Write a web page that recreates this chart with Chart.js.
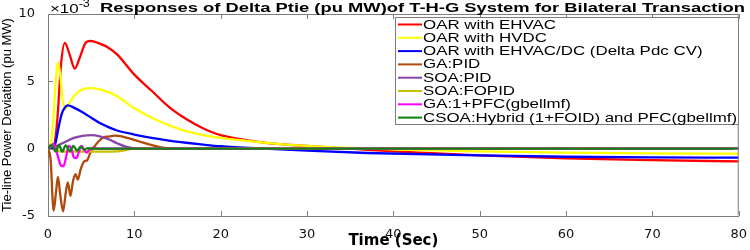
<!DOCTYPE html>
<html>
<head>
<meta charset="utf-8">
<script src="https://cdn.jsdelivr.net/npm/chart.js@4.4.1/dist/chart.umd.min.js"></script>
<style>
  html, body { margin: 0; padding: 0; background: #fff; }
</style>
</head>
<body>
<canvas id="tieChart" width="750" height="250"></canvas>
<script>
// values are in units of 1e-3 pu MW (axis carries the x10^-3 multiplier)
var seriesNames = [
    "OAR with EHVAC",
    "OAR with HVDC",
    "OAR with EHVAC/DC (Delta Pdc CV)",
    "GA:PID",
    "SOA:PID",
    "SOA:FOPID",
    "GA:1+PFC(gbellmf)",
    "CSOA:Hybrid (1+FOID) and PFC(gbellmf)"
];
var seriesColors = ["#ff0000", "#ffff00", "#0000ff", "#b04a0a", "#8a45a8", "#c8c000", "#ff00ff", "#108010"];

var tRed = [0, 0.5, 0.8, 1.1, 1.5, 1.95, 2.5, 3.1, 3.7, 4.3, 4.9, 6, 7, 8, 10, 12, 14, 16, 18, 20, 25, 30, 35, 40, 50, 60, 70, 80];
var yRed = [0, 0, 0.5, 2.3, 6.2, 7.85, 7.0, 5.95, 6.8, 7.8, 8.0, 7.8, 7.5, 7.0, 5.5, 4.3, 3.1, 2.2, 1.5, 1.0, 0.45, 0.2, 0.0, -0.2, -0.5, -0.72, -0.85, -0.95];

var tYellow = [0, 0.3, 0.6, 0.9, 1.15, 1.4, 1.7, 2.05, 2.5, 3, 3.5, 4, 5, 6, 7, 8, 10, 12, 14, 16, 18, 20, 25, 30, 37, 50, 60, 70, 80];
var yYellow = [0, 0.3, 2.0, 5.0, 6.4, 5.6, 3.6, 3.0, 3.4, 3.9, 4.2, 4.4, 4.5, 4.4, 4.2, 3.9, 3.0, 2.3, 1.75, 1.3, 1.0, 0.8, 0.45, 0.2, 0, -0.2, -0.3, -0.35, -0.37];

var tBlue = [0, 0.6, 0.9, 1.2, 1.6, 2.0, 2.3, 3, 4, 5, 6, 7, 8, 10, 12, 14, 16, 18, 20, 25, 30, 37, 50, 60, 70, 80];
var yBlue = [0, 0, 0.5, 1.5, 2.6, 3.1, 3.22, 3.05, 2.7, 2.3, 1.9, 1.6, 1.35, 1.05, 0.8, 0.6, 0.44, 0.3, 0.18, 0.0, -0.15, -0.32, -0.5, -0.6, -0.65, -0.67];

var tGaPid = [0, 0.3, 0.65, 0.9, 1.15, 1.45, 1.75, 2.05, 2.3, 2.6, 2.9, 3.2, 3.45, 3.8, 4.2, 4.55, 4.9, 5.3, 5.8, 6.3, 7, 7.8, 8.6, 9.5, 10.5, 11.5, 12.5, 13.5, 15, 20, 80];
var yGaPid = [0, -0.8, -4.6, -3.4, -2.1, -3.6, -4.65, -3.3, -2.5, -3.5, -2.4, -1.9, -2.3, -1.5, -0.95, -0.85, -0.3, 0.1, 0.5, 0.8, 0.9, 0.97, 0.9, 0.75, 0.55, 0.35, 0.18, 0.05, 0, 0, 0];

var tSoaPid = [0, 0.3, 0.6, 1, 2, 3, 4, 5, 6, 7, 8, 9, 10, 11, 80];
var ySoaPid = [0, 0.25, 0.1, 0.2, 0.5, 0.8, 0.95, 1.0, 0.92, 0.7, 0.4, 0.15, 0.02, 0, 0];

var tFopid = [0, 0.3, 0.6, 0.9, 1.3, 2, 4, 6, 8, 9, 10, 80];
var yFopid = [0, 0.2, 0.35, 0.0, -0.2, -0.22, -0.22, -0.22, -0.2, -0.1, 0, 0];

var tGaPfc = [0, 0.3, 0.6, 0.9, 1.2, 1.5, 1.8, 2.1, 2.4, 2.7, 3.0, 3.3, 3.6, 3.9, 4.2, 4.5, 4.8, 5.2, 6, 80];
var yGaPfc = [0, 0.1, 0.35, 0.0, -0.7, -1.25, -1.3, -0.6, 0.2, 0.0, -0.65, -0.7, -0.2, 0.2, -0.1, -0.3, -0.05, 0.05, 0, 0];

var tCsoa = [0, 0.4, 0.9, 1.27, 1.66, 2.05, 2.55, 2.93, 3.39, 3.78, 4.2, 4.6, 5, 80];
var yCsoa = [0, 0.27, -0.22, 0.27, -0.22, 0.25, -0.2, 0.2, -0.15, 0.15, -0.07, 0.04, 0, 0];

var xTicks = [0, 10, 20, 30, 40, 50, 60, 70, 80];
var yTicks = [-5, 0, 5, 10];

var allT = [tRed, tYellow, tBlue, tGaPid, tSoaPid, tFopid, tGaPfc, tCsoa];
var allY = [yRed, yYellow, yBlue, yGaPid, ySoaPid, yFopid, yGaPfc, yCsoa];

function pts(t, y) {
    return t.map(function (v, i) { return {x: v, y: y[i]}; });
}

var datasets = seriesNames.map(function (name, i) {
    return {
        label: name,
        data: pts(allT[i], allY[i]),
        borderColor: seriesColors[i],
        backgroundColor: seriesColors[i],
        borderWidth: 2.3,
        pointRadius: 0,
        cubicInterpolationMode: 'monotone',
        order: seriesNames.length - i   // later series drawn on top, like matlab
    };
});

function stretchText(ctx, text, x, y, sx) {
    ctx.save();
    ctx.translate(x, y);
    ctx.scale(sx, 1);
    ctx.fillText(text, 0, 0);
    ctx.restore();
}

var frameColor = "#7d7d7d";

var decorPlugin = {
    id: 'decor',
    afterDraw: function (chart) {
        var ctx = chart.ctx;
        var a = chart.chartArea;
        var xs = chart.scales.x, ys = chart.scales.y;

        // box + inward ticks
        ctx.save();
        ctx.strokeStyle = frameColor;
        ctx.lineWidth = 1;
        ctx.beginPath();
        ctx.moveTo(a.left + 0.5, a.top + 0.5);
        ctx.lineTo(a.right - 0.5, a.top + 0.5);
        ctx.lineTo(a.right - 0.5, a.bottom - 0.5);
        xTicks.forEach(function (v) {
            var px = Math.round(xs.getPixelForValue(v)) + 0.5;
            ctx.moveTo(px, a.bottom);
            ctx.lineTo(px, a.bottom - 5);
            ctx.moveTo(px, a.top);
            ctx.lineTo(px, a.top + 5);
        });
        yTicks.forEach(function (v) {
            var py = Math.round(ys.getPixelForValue(v)) + 0.5;
            ctx.moveTo(a.left, py);
            ctx.lineTo(a.left + 5, py);
            ctx.moveTo(a.right, py);
            ctx.lineTo(a.right - 5, py);
        });
        ctx.stroke();
        ctx.restore();

        // title
        ctx.save();
        ctx.fillStyle = "#000";
        ctx.textBaseline = 'alphabetic';
        ctx.textAlign = 'left';
        var title = "Responses of Delta Ptie (pu MW)of T-H-G System for Bilateral Transaction";
        ctx.font = 'bold 13px "Liberation Sans"';
        var tw = ctx.measureText(title).width;
        stretchText(ctx, title, 100, 12, 645 / tw);

        // x10^-3 multiplier
        ctx.font = '13px "Liberation Sans"';
        var mult = "\u00d710";
        stretchText(ctx, mult, 50, 13, 1.3);
        var mw = ctx.measureText(mult).width * 1.3;
        ctx.font = '10px "Liberation Sans"';
        stretchText(ctx, "-3", 50 + mw, 7, 1.25);
        ctx.restore();

        // legend inside the axes, top right
        ctx.save();
        var lx = 395.5, ly = 17.5, lw = 343, lh = 107;
        ctx.fillStyle = "#fff";
        ctx.fillRect(lx, ly, lw, lh);
        ctx.strokeStyle = frameColor;
        ctx.lineWidth = 1;
        ctx.strokeRect(lx, ly, lw, lh);
        ctx.font = '13px "Liberation Sans"';
        ctx.textBaseline = 'middle';
        ctx.textAlign = 'left';
        chart.data.datasets.forEach(function (ds, i) {
            var ry = 24.5 + i * 13.3;
            ctx.strokeStyle = ds.borderColor;
            ctx.lineWidth = 2;
            ctx.beginPath();
            ctx.moveTo(398, ry);
            ctx.lineTo(422, ry);
            ctx.stroke();
            ctx.fillStyle = "#000";
            stretchText(ctx, ds.label, 423, ry + 0.5, 1.3);
        });
        ctx.restore();
    }
};

var ctxT = document.getElementById("tieChart").getContext('2d');
var tieChart = new Chart(ctxT, {
    type: 'line',
    data: {datasets: datasets},
    options: {
        responsive: false,
        animation: false,
        devicePixelRatio: 1,
        layout: {padding: {top: 14, right: 11, left: 0, bottom: 0}},
        plugins: {
            legend: {display: false},
            title: {display: false},
            tooltip: {enabled: false}
        },
        scales: {
            x: {
                type: 'linear',
                min: 0,
                max: 80,
                afterFit: function (s) { s.height = 34; },
                afterBuildTicks: function (s) { s.ticks = xTicks.map(function (v) { return {value: v}; }); },
                grid: {display: false},
                border: {display: true, color: frameColor, width: 1},
                ticks: {font: {family: 'DejaVu Sans', size: 13}, color: '#111', padding: 3, maxRotation: 0},
                title: {
                    display: true,
                    text: 'Time (Sec)',
                    font: {family: 'DejaVu Sans', size: 15, weight: 'bold'},
                    color: '#000',
                    padding: {top: 0, bottom: 0}
                }
            },
            y: {
                min: -5,
                max: 10,
                afterFit: function (s) { s.width = 48; },
                afterBuildTicks: function (s) { s.ticks = yTicks.map(function (v) { return {value: v}; }); },
                grid: {display: false},
                border: {display: true, color: frameColor, width: 1},
                ticks: {font: {family: 'DejaVu Sans', size: 13}, color: '#111', padding: 5},
                title: {
                    display: true,
                    text: 'Tie-line Power Deviation (pu MW)',
                    font: {family: 'Liberation Sans', size: 13},
                    color: '#000',
                    padding: {top: 0, bottom: 2}
                }
            }
        }
    },
    plugins: [decorPlugin]
});
</script>
</body>
</html>
